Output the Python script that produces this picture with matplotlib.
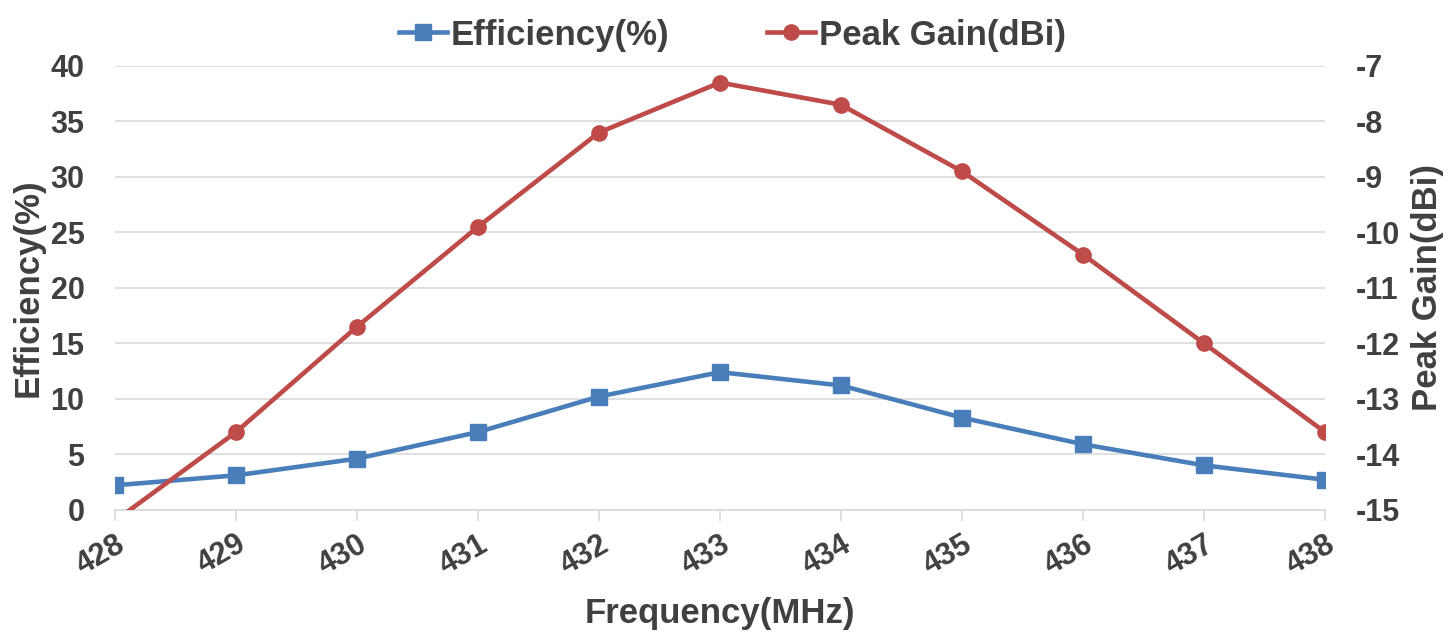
import matplotlib.pyplot as plt
import numpy as np

# data
freq = [428, 429, 430, 431, 432, 433, 434, 435, 436, 437, 438]
efficiency = [2.2, 3.1, 4.6, 7.0, 10.2, 12.4, 11.2, 8.3, 5.9, 4.0, 2.7]
peak_gain = [-15.2, -13.6, -11.7, -9.9, -8.2, -7.3, -7.7, -8.9, -10.4, -12.0, -13.6]

blue = '#4A7EBB'
red = '#BE4B48'
txt = '#404040'

plt.rcParams['font.family'] = ['Liberation Sans', 'DejaVu Sans']
plt.rcParams['font.weight'] = 'bold'
plt.rcParams['axes.unicode_minus'] = False

fig = plt.figure(figsize=(14.56, 6.34), dpi=100)
ax = fig.add_axes([0.079, 0.196, 0.831, 0.7])
ax2 = ax.twinx()

l1, = ax.plot(freq, efficiency, color=blue, lw=3.3, marker='s', ms=11, label='Efficiency(%)')
l2, = ax2.plot(freq, peak_gain, color=red, lw=3.3, marker='o', ms=11, label='Peak Gain(dBi)')

ax.set_xlim(428, 438)
ax.set_ylim(0, 40)
ax2.set_ylim(-15, -7)
ax.set_xticks(freq)
ax.set_yticks(np.arange(0, 41, 5))
ax2.set_yticks(np.arange(-15, -6, 1))

ax.grid(axis='y', color='#D9D9D9', lw=1.2)
ax.set_axisbelow(True)
for a in (ax, ax2):
    for s in a.spines.values():
        s.set_visible(False)
ax.spines['bottom'].set_visible(True)
ax.spines['bottom'].set_color('#D9D9D9')
ax.spines['bottom'].set_linewidth(1.2)

ax.tick_params(axis='x', length=8, width=1.2, color='#D9D9D9', labelsize=22, labelcolor=txt, pad=6)
ax.tick_params(axis='y', length=0, labelsize=22, labelcolor=txt, pad=22)
ax2.tick_params(axis='y', length=0, labelsize=22, labelcolor=txt, pad=22)
for lab in ax.get_xticklabels():
    lab.set_rotation(30)
    lab.set_ha('right')
    lab.set_va('top')
    lab.set_rotation_mode('anchor')

ax.set_xlabel('Frequency(MHz)', fontsize=25, color=txt, fontweight='bold', labelpad=12)
ax.set_ylabel('Efficiency(%)', fontsize=25, color=txt, fontweight='bold', labelpad=4)
ax2.set_ylabel('Peak Gain(dBi)', fontsize=25, color=txt, fontweight='bold', labelpad=8)

fig.legend(handles=[l1, l2], loc='upper center', bbox_to_anchor=(0.503, 1.02), ncol=2,
           frameon=False, fontsize=25, handlelength=1.4, columnspacing=2.8, handletextpad=0.1,
           labelcolor=txt)

fig.savefig('out.png', dpi=100)
